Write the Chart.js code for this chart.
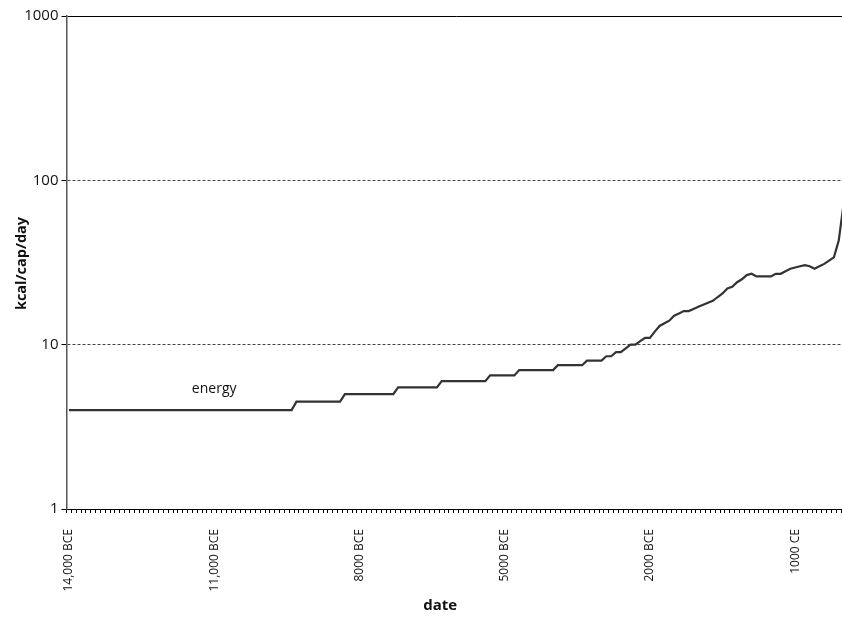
<!DOCTYPE html>
<html>
<head>
<meta charset="utf-8">
<script src="https://cdn.jsdelivr.net/npm/chart.js@4/dist/chart.umd.min.js"></script>
<style>
  html, body { margin: 0; padding: 0; background: #fff; overflow: hidden; }
  /* the plot runs a few pixels past the right edge of the window */
  #energyChart { display: block; }
</style>
</head>
<body>
<canvas id="energyChart" width="846" height="618"></canvas>
<script>
// Categories: one per century, 14,000 BCE to 2000 CE
const firstYear = -14000;
const yearStep = 100;
const yearCount = 161;
const years = [];
for (let i = 0; i < yearCount; i++) years.push(firstYear + i * yearStep);

// Energy capture, kcal/cap/day (one value per century)
const energy = [
  4, 4, 4, 4, 4, 4, 4, 4, 4, 4,            // 14000 - 13100 BCE
  4, 4, 4, 4, 4, 4, 4, 4, 4, 4,            // 13000 - 12100
  4, 4, 4, 4, 4, 4, 4, 4, 4, 4,            // 12000 - 11100
  4, 4, 4, 4, 4, 4, 4, 4, 4, 4,            // 11000 - 10100
  4, 4, 4, 4, 4, 4, 4, 4.5, 4.5, 4.5,      // 10000 - 9100
  4.5, 4.5, 4.5, 4.5, 4.5, 4.5, 4.5, 5, 5, 5, // 9000 - 8100
  5, 5, 5, 5, 5, 5, 5, 5, 5.5, 5.5,        // 8000 - 7100
  5.5, 5.5, 5.5, 5.5, 5.5, 5.5, 5.5, 6, 6, 6, // 7000 - 6100
  6, 6, 6, 6, 6, 6, 6, 6.5, 6.5, 6.5,      // 6000 - 5100
  6.5, 6.5, 6.5, 7, 7, 7, 7, 7, 7, 7,      // 5000 - 4100
  7, 7.5, 7.5, 7.5, 7.5, 7.5, 7.5, 8, 8, 8, // 4000 - 3100
  8, 8.5, 8.5, 9, 9, 9.5, 10, 10, 10.5, 11, // 3000 - 2100
  11, 12, 13, 13.5, 14, 15, 15.5, 16, 16, 16.5, // 2000 - 1100
  17, 17.5, 18, 18.5, 19.5, 20.5, 22, 22.5, 24, 25, // 1000 - 100 BCE
  26.5, 27, 26, 26, 26, 26, 27, 27, 28, 29, // 1 - 900 CE
  29.5, 30, 30.5, 30, 29, 30, 31, 32.5, 34, 43, // 1000 - 1900
  72                                        // 2000
];

// Labelled years on the date axis
const labelYears = [-14000, -11000, -8000, -5000, -2000, 1000];
const labelTexts = ['14,000 BCE', '11,000 BCE', '8000 BCE', '5000 BCE', '2000 BCE', '1000 CE'];

// Tick values on the log axis
const yTicks = [1, 10, 100, 1000];

const fontFamily = '"Open Sans", "Noto Sans", sans-serif';

// Axis titles and the series name, drawn on top of the chart
const chartText = {
  id: 'chartText',
  afterDraw(chart) {
    const { ctx, chartArea, scales } = chart;
    ctx.save();
    ctx.fillStyle = '#111';
    ctx.textAlign = 'center';
    ctx.textBaseline = 'middle';

    ctx.font = 'bold 15px ' + fontFamily;
    ctx.fillText('date', (chartArea.left + chartArea.right) / 2 - 16, chart.height - 12);

    ctx.save();
    ctx.translate(22, (chartArea.top + chartArea.bottom) / 2 + 1);
    ctx.rotate(-Math.PI / 2);
    ctx.font = 'bold 14.5px ' + fontFamily;
    ctx.fillText('kcal/cap/day', 0, 0);
    ctx.restore();

    ctx.font = '14px ' + fontFamily;
    ctx.fillText('energy', scales.x.getPixelForValue(30), scales.y.getPixelForValue(5.4));
    ctx.restore();
  }
};

new Chart(document.getElementById('energyChart'), {
  type: 'line',
  data: {
    labels: years,
    datasets: [{
      label: 'energy',
      data: energy,
      borderColor: '#333',
      borderWidth: 2.2,
      pointRadius: 0,
      tension: 0,
      fill: false
    }]
  },
  options: {
    responsive: false,
    animation: false,
    layout: { padding: { top: 16, right: 0, left: 0, bottom: 0 } },
    plugins: {
      legend: { display: false },
      tooltip: { enabled: false }
    },
    scales: {
      x: {
        type: 'category',
        offset: true,
        afterFit: (scale) => {
          scale.height = 109;
          scale.paddingLeft = 0;
          scale.paddingRight = 0;
        },
        grid: {
          offset: true,
          drawOnChartArea: false,
          drawTicks: true,
          tickLength: 4,
          tickColor: '#000',
          tickWidth: 1
        },
        border: { display: true, color: '#000', width: 1 },
        ticks: {
          autoSkip: false,
          minRotation: 90,
          maxRotation: 90,
          padding: 16,
          color: '#111',
          font: { family: fontFamily, size: 12 },
          callback: function (value, index) {
            const k = labelYears.indexOf(years[index]);
            return k >= 0 ? labelTexts[k] : '';
          }
        }
      },
      y: {
        type: 'logarithmic',
        min: 1,
        max: 1000,
        afterFit: (scale) => {
          scale.width = 66.5;
          scale.paddingTop = 0;
          scale.paddingBottom = 0;
        },
        afterBuildTicks: (scale) => {
          scale.ticks = yTicks.map(v => ({ value: v }));
        },
        grid: {
          color: (ctx) => (ctx.tick && (ctx.tick.value === 10 || ctx.tick.value === 100)) ? '#444' : '#000',
          lineWidth: 1,
          drawTicks: true,
          tickLength: 5,
          tickColor: '#000'
        },
        border: {
          display: true,
          color: '#555',
          width: 1.5,
          dash: (ctx) => (ctx.tick && (ctx.tick.value === 10 || ctx.tick.value === 100)) ? [3, 2] : []
        },
        ticks: {
          padding: 3,
          color: '#111',
          font: { family: fontFamily, size: 15 },
          callback: (value) => String(value)
        }
      }
    }
  },
  plugins: [chartText]
});
</script>
</body>
</html>
